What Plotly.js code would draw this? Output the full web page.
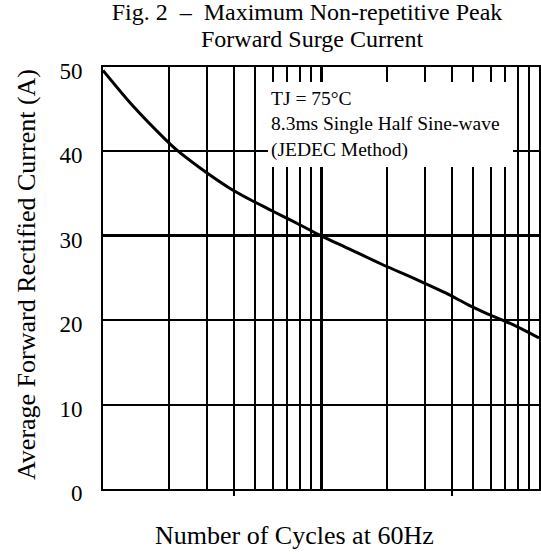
<!DOCTYPE html>
<html>
<head>
<meta charset="utf-8">
<script src="https://cdn.plot.ly/plotly-3.0.1.min.js"></script>
<style>
  html, body { margin: 0; padding: 0; background: #ffffff; }
  #chart { width: 541px; height: 554px; }
</style>
</head>
<body>
<div id="chart"></div>
<script>
// ---- data ----
var cycles  = [1, 1.37, 1.9, 2.17, 2.8, 3.78, 4.72, 5.72, 6.7, 7.86, 10, 13.2, 19.1, 28.1, 37.5, 47.1, 57, 67.5, 78.5, 100];
var current = [49.6, 45.4, 41.6, 40.2, 38.0, 35.7, 34.3, 33.2, 32.3, 31.4, 30.0, 28.55, 26.6, 24.7, 23.2, 21.85, 20.85, 20.05, 19.3, 17.9];

var majorX = [1, 10, 100];
var minorX = [2, 3, 4, 5, 6, 7, 8, 9, 20, 30, 40, 50, 60, 70, 80, 90];
var markX  = [4, 40];
var yTicks = [0, 10, 20, 30, 40, 50];
var yHeavy = [30];

var titleLine1 = 'Fig. 2\u00a0\u00a0\u2013\u00a0\u00a0Maximum Non-repetitive Peak';
var titleLine2 = 'Forward Surge Current';
var xTitle = 'Number of Cycles at 60Hz';
var yTitle = 'Average Forward Rectified Current (A)';
var noteLines = ['TJ = 75\u00b0C', '8.3ms Single Half Sine-wave', '(JEDEC Method)'];

var FONT = "'Liberation Serif', 'Times New Roman', serif";

var traces = [
  {
    x: cycles, y: current, type: 'scatter', mode: 'lines',
    line: {color: '#000000', width: 3, shape: 'spline', smoothing: 0.8},
    hoverinfo: 'skip', showlegend: false
  },
  {
    x: [1, 100], y: [0, 0], xaxis: 'x2', yaxis: 'y2', type: 'scatter', mode: 'lines',
    line: {width: 0, color: 'rgba(0,0,0,0)'}, hoverinfo: 'skip', showlegend: false
  }
];

var layout = {
  width: 541, height: 554,
  margin: {l: 103, r: 2, t: 67, b: 65},
  paper_bgcolor: '#ffffff', plot_bgcolor: '#ffffff',
  font: {family: FONT, color: '#000000', size: 22},
  showlegend: false,
  title: {
    text: titleLine1,
    font: {family: FONT, size: 24, color: '#000000'},
    x: 307 / 541, xanchor: 'center', xref: 'container',
    y: 1 - 12 / 554, yanchor: 'middle', yref: 'container'
  },
  xaxis: {
    type: 'log', range: [0, 2],
    tickmode: 'array', tickvals: majorX, showticklabels: false, ticks: '',
    showgrid: true, gridcolor: '#000000', gridwidth: 3,
    minor: {tickmode: 'array', tickvals: minorX, showgrid: true, gridcolor: '#000000', gridwidth: 2, ticks: ''},
    showline: true, linecolor: '#000000', linewidth: 2, mirror: true,
    zeroline: false, fixedrange: true
  },
  xaxis2: {
    type: 'log', range: [0, 2], overlaying: 'x', anchor: 'y',
    tickmode: 'array', tickvals: markX, showticklabels: false,
    ticks: 'outside', ticklen: 6, tickwidth: 2, tickcolor: '#000000',
    showgrid: false, showline: false, zeroline: false, fixedrange: true
  },
  yaxis: {
    range: [0, 50], tickmode: 'array', tickvals: yTicks,
    ticks: '', ticklabelstandoff: 14, ticklabelshift: 4,
    tickfont: {family: FONT, size: 23, color: '#000000'},
    showgrid: true, gridcolor: '#000000', gridwidth: 2,
    showline: true, linecolor: '#000000', linewidth: 2, mirror: true,
    zeroline: false, fixedrange: true
  },
  yaxis2: {
    range: [0, 50], overlaying: 'y', anchor: 'x', side: 'left',
    tickmode: 'array', tickvals: yHeavy, showticklabels: false, ticks: '',
    showgrid: true, gridcolor: '#000000', gridwidth: 3,
    showline: false, zeroline: false, fixedrange: true
  },
  annotations: [
    {
      text: titleLine2, xref: 'paper', yref: 'paper',
      x: (312 - 103) / 436, xanchor: 'center',
      y: (489 - 39) / 422, yanchor: 'middle',
      showarrow: false,
      font: {family: FONT, size: 24, color: '#000000'}
    },
    {
      text: noteLines.join('<br>'), align: 'left',
      xref: 'paper', yref: 'paper',
      x: (268 - 103) / 436, xanchor: 'left',
      y: (489 - 82) / 422, yanchor: 'top',
      showarrow: false, bgcolor: '#ffffff', borderpad: 3, borderwidth: 0,
      width: 239, height: 79,
      font: {family: FONT, size: 19.5, color: '#000000'}
    },
    {
      text: xTitle, xref: 'paper', yref: 'paper',
      x: (294 - 103) / 436, xanchor: 'center',
      y: (489 - 535) / 422, yanchor: 'middle',
      showarrow: false,
      font: {family: FONT, size: 26, color: '#000000'}
    },
    {
      text: yTitle, xref: 'paper', yref: 'paper', textangle: -90,
      x: (26 - 103) / 436, xanchor: 'center',
      y: (489 - 275) / 422, yanchor: 'middle',
      showarrow: false,
      font: {family: FONT, size: 26, color: '#000000'}
    }
  ]
};

Plotly.newPlot('chart', traces, layout, {staticPlot: true, displayModeBar: false});
</script>
</body>
</html>
